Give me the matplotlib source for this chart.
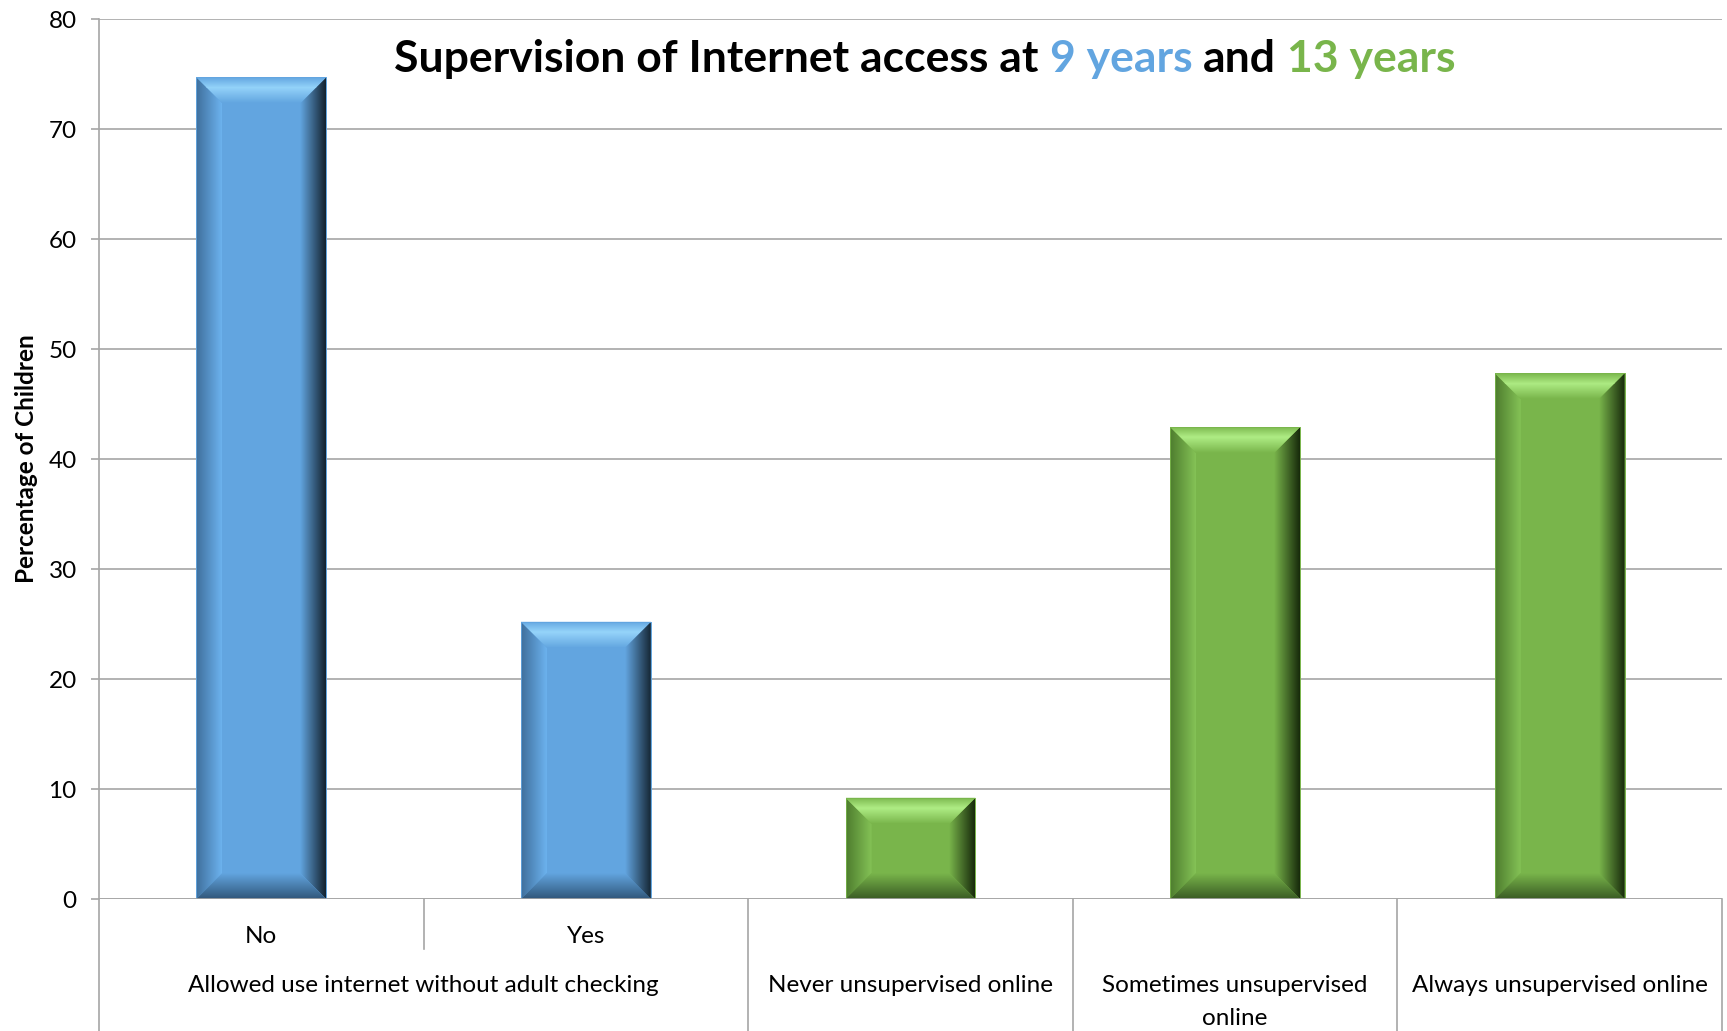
import numpy as np
import matplotlib
matplotlib.use("Agg")
import matplotlib.pyplot as plt
from matplotlib.patches import Polygon
from matplotlib.colors import to_rgb

plt.rcParams['font.family'] = ['Lato', 'DejaVu Sans']

# data
sub_labels = ["No", "Yes", "", "", ""]
group_labels = ["Allowed use internet without adult checking", "Never unsupervised online",
                "Sometimes unsupervised\nonline", "Always unsupervised online"]
group_centers = [0.5, 2, 3, 4]
values = [74.7, 25.2, 9.2, 42.9, 47.8]
age_group = ["9", "9", "13", "13", "13"]

blue = "#62A5E0"
green = "#79B54B"
grid_c = "#A6A6A6"

# bevel shades
shades = {
    "9": dict(face=blue, hi="#95D4FA", left="#3F6F9C", lefti="#6CB2EE", right="#13222F", bottom="#31577A"),
    "13": dict(face=green, hi="#AEEC84", left="#4E7D2E", lefti="#84C256", right="#172A0B", bottom="#3A5C24"),
}

W, H = 1727, 1031
fig = plt.figure(figsize=(W / 100, H / 100), dpi=100)
ax_w_px = 1722 - 99
ax_h_px = 899 - 19
ax = fig.add_axes([99 / W, 1 - 899 / H, ax_w_px / W, ax_h_px / H])

x = np.arange(len(values))
bw = 0.4
ax.set_xlim(-0.5, 4.5)
ax.set_ylim(0, 80)
ax.set_yticks(np.arange(0, 81, 10))
ax.grid(axis='y', color=grid_c, linewidth=1.2)
ax.set_axisbelow(True)
for s in ['top', 'right', 'bottom']:
    ax.spines[s].set_visible(False)
ax.spines['left'].set_color(grid_c)
ax.spines['left'].set_linewidth(1.2)
ax.tick_params(axis='y', length=6, color=grid_c, width=1.2, labelsize=17.5, pad=10)
ax.tick_params(axis='x', length=0, labelsize=17.5)
ax.set_xticks(x)
ax.set_xticklabels([])
ax.set_ylabel("Percentage of Children", fontsize=17.5, fontweight='bold')
ax.yaxis.set_label_coords(-0.0378, 0.5)

bev_px = 26
bx = bev_px * 5.0 / ax_w_px
by = bev_px * 80.0 / ax_h_px


def gradient_patch(poly, c_from, c_to, direction, extent):
    # direction: 'x' left->right, 'y' bottom->top
    n = 64
    c1 = np.array(to_rgb(c_from))
    c2 = np.array(to_rgb(c_to))
    t = np.linspace(0, 1, n)
    cols = c1[None, :] * (1 - t[:, None]) + c2[None, :] * t[:, None]
    if direction == 'x':
        img = cols[None, :, :]
    else:
        img = cols[::-1][:, None, :]
    im = ax.imshow(img, extent=extent, aspect='auto', interpolation='bilinear', zorder=3)
    p = Polygon(poly, closed=True, transform=ax.transData, facecolor='none', edgecolor='none')
    ax.add_patch(p)
    im.set_clip_path(p)


for xi, v, g in zip(x, values, age_group):
    sh = shades[g]
    l, r = xi - bw / 2, xi + bw / 2
    b, t = 0, v
    ax.bar(xi, v, width=bw, color=sh["face"], zorder=2, edgecolor=sh["face"], linewidth=0.5)
    # left side
    gradient_patch([(l, b), (l + bx, b + by), (l + bx, t - by), (l, t)],
                   sh["left"], sh["lefti"], 'x', (l, l + bx, b, t))
    # right side
    gradient_patch([(r, b), (r - bx, b + by), (r - bx, t - by), (r, t)],
                   sh["face"], sh["right"], 'x', (r - bx, r, b, t))
    # bottom
    gradient_patch([(l, b), (r, b), (r - bx, b + by), (l + bx, b + by)],
                   sh["bottom"], sh["face"], 'y', (l, r, b, b + by))
    # top: highlight band
    gradient_patch([(l, t), (r, t), (r - bx, t - by), (l + bx, t - by)],
                   sh["face"], sh["hi"], 'y', (l, r, t - by, t - by * 0.4))
    gradient_patch([(l, t), (r, t), (r - bx * 0.4, t - by * 0.4), (l + bx * 0.4, t - by * 0.4)],
                   sh["hi"], sh["face"], 'y', (l, r, t - by * 0.4, t))
    ax.plot([l, r, r, l, l], [b, b, t, t, b], color=sh["face"], lw=0.6, zorder=4)

ax.set_xlim(-0.5, 4.5)
ax.set_ylim(0, 80)

# x axis line and category separators
xt = ax.get_xaxis_transform()
ax.axhline(0, color=grid_c, lw=1.2, zorder=5)
for sx, bottom in [(0.5, -(949 - 899) / ax_h_px), (1.5, -0.2), (2.5, -0.2), (3.5, -0.2), (4.5, -0.2), (-0.5, -0.2)]:
    ax.plot([sx, sx], [0, bottom], transform=xt, color=grid_c, lw=1.2, clip_on=False)

for xi, lab in zip(x, sub_labels):
    if lab:
        ax.text(xi, -(943 - 899) / ax_h_px, lab, transform=xt, ha='center', va='baseline',
                fontsize=17.5, clip_on=False)

line_step = 33
for gx, lab in zip(group_centers, group_labels):
    for k, line in enumerate(lab.split("\n")):
        ax.text(gx, -(992 + k * line_step - 899) / ax_h_px, line, transform=xt, ha='center',
                va='baseline', fontsize=17.5, clip_on=False)

# multi-coloured title
pieces = [("Supervision of Internet access at", "black"), ("9 years", blue),
          ("and", "black"), ("13 years", green)]
renderer = fig.canvas.get_renderer()
tsize = 32


def width_of(s):
    tt = fig.text(0, 0, s, fontsize=tsize, fontweight='bold')
    w = tt.get_window_extent(renderer).width
    tt.remove()
    return w


full = ""
starts = []
for i, (s, c) in enumerate(pieces):
    if i > 0:
        full += " "
    full += s
    starts.append(width_of(full) - width_of(s))
total = width_of(full)
cx = 925
x0 = cx - total / 2
for (s, c), st in zip(pieces, starts):
    fig.text((x0 + st) / W, 1 - 71.5 / H, s, fontsize=tsize, fontweight='bold', color=c,
             ha='left', va='baseline')

fig.savefig("out.png", dpi=100)
